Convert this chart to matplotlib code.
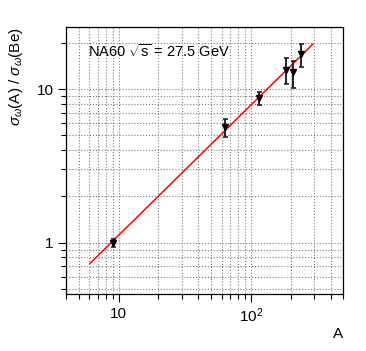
import numpy as np
import matplotlib
matplotlib.use("Agg")
import matplotlib.pyplot as plt
from matplotlib.ticker import FixedLocator, FuncFormatter, LogLocator, NullFormatter

plt.rcParams['font.family'] = ['Liberation Sans', 'DejaVu Sans']
plt.rcParams['mathtext.fontset'] = 'custom'
plt.rcParams['mathtext.rm'] = 'Liberation Sans'
plt.rcParams['mathtext.it'] = 'Liberation Sans:italic'

# data: mass number A, ratio sigma_omega(A)/sigma_omega(Be)
A = [9, 63.5, 115, 184, 207, 238]
ratio = [1.0, 5.7, 8.8, 13.4, 12.9, 16.9]
err_lo = [0.06, 0.8, 0.9, 2.6, 2.7, 2.9]
err_hi = [0.06, 0.7, 0.85, 2.7, 2.5, 2.8]

# power-law fit drawn as the red line
fit_alpha = 0.85
fit_norm = 1.02
fit_range = [6.1, 294]

fig = plt.figure(figsize=(3.66, 3.51), dpi=100)
ax = fig.add_axes([0.18, 0.1615, 0.7585, 0.7615])

xx = np.logspace(np.log10(fit_range[0]), np.log10(fit_range[1]), 50)
ax.plot(xx, fit_norm * (xx / 9.0) ** fit_alpha, color='red', lw=1.1, zorder=2)

ax.errorbar(A, ratio, yerr=[err_lo, err_hi], fmt='v', color='black', ms=3.8,
            ecolor='#222222', elinewidth=1.4, capsize=1.8, capthick=1.2, zorder=3)

ax.set_xscale('log')
ax.set_yscale('log')
ax.set_xlim(4.0, 500)
ax.set_ylim(0.46, 25.5)

ax.xaxis.set_major_locator(FixedLocator([10, 100]))
ax.yaxis.set_major_locator(FixedLocator([1, 10]))
ax.xaxis.set_minor_locator(LogLocator(base=10, subs=np.arange(2, 10)))
ax.yaxis.set_minor_locator(LogLocator(base=10, subs=np.arange(2, 10)))
ax.xaxis.set_minor_formatter(NullFormatter())
ax.yaxis.set_minor_formatter(NullFormatter())
ax.xaxis.set_major_formatter(FuncFormatter(lambda v, p: '10' if v < 50 else r'10$^{2}$'))
ax.yaxis.set_major_formatter(FuncFormatter(lambda v, p: '1' if v < 5 else '10'))

ax.grid(True, which='both', ls=':', color='#7a7a7a', lw=0.8)
ax.tick_params(which='major', direction='out', length=6, width=0.8, labelsize=11, pad=3)
ax.tick_params(which='minor', direction='out', length=3.4, width=0.8)
for s in ax.spines.values():
    s.set_linewidth(0.9)

ax.text(0.081, 0.909, r'NA60 $\sqrt{\mathrm{s}}$ = 27.5 GeV', transform=ax.transAxes,
        fontsize=10.5, va='center', ha='left')

ax.set_ylabel(r'$\sigma_{\omega}$(A) / $\sigma_{\omega}$(Be)', fontsize=11, loc='top', labelpad=8)
ax.set_xlabel('A', fontsize=11, loc='right', labelpad=1)

fig.savefig('out.png', dpi=100)
